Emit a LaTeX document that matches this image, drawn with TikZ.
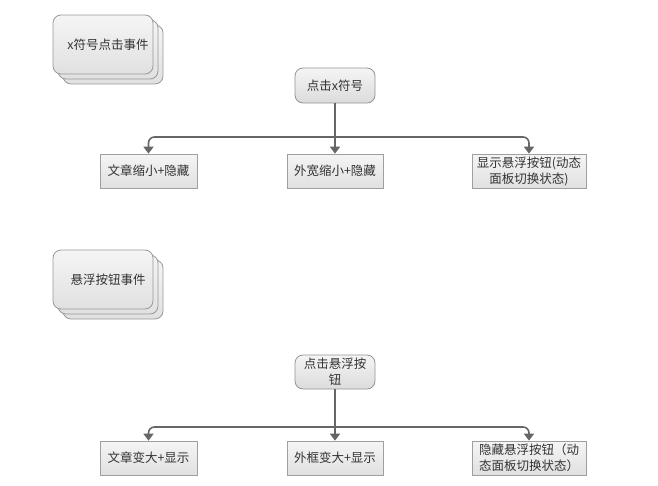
\documentclass[tikz,border=0pt]{standalone}
\usepackage{fontspec}
\setmainfont{Noto Sans CJK SC}
\usetikzlibrary{arrows.meta, positioning}

\tikzset{
  card/.style={draw=gray!80, line width=0.8pt, rounded corners=8pt,
    top color=white!96!black, bottom color=white!88!black,
    minimum width=100pt, minimum height=59pt, inner sep=2pt},
  start/.style={draw=gray!85, line width=0.8pt, rounded corners=8pt,
    top color=white!96!black, bottom color=white!86!black,
    minimum width=80pt, minimum height=35pt, align=center, inner sep=1pt},
  action/.style={draw=gray!75, line width=0.7pt,
    top color=white!96!black, bottom color=white!88!black,
    minimum height=34pt, align=center, inner sep=0pt},
  link/.style={draw=black!60, line width=1.6pt},
  flow/.style={link, rounded corners=6pt,
    -{Triangle[width=10pt,length=7pt]}}
}

\begin{document}
\begin{tikzpicture}[x=1pt, y=-1pt, font=\fontsize{12.5}{16}\selectfont, text=black!80]
  \useasboundingbox (0,0) rectangle (658,485);

  % event cards
  \node at (113,54.5) (cardAb) [card] {};
  \node at (108,49.5) (cardAm) [card] {};
  \node at (103,44.5) (cardA) [card] {\hspace{10pt}x符号点击事件};
  \node at (113,289.5) (cardBb) [card] {};
  \node at (108,284.5) (cardBm) [card] {};
  \node at (103,279.5) (cardB) [card] {\hspace{10pt}悬浮按钮事件};

  % first event
  \node at (335,85.5) (clickX) [start] {点击x符号};
  \coordinate (jX) at (335,137);
  \node at (148.5,171) (shrinkText) [action, minimum width=97pt] {文章缩小+隐藏};
  \node at (335,171) (shrinkFrame) [action, minimum width=96pt] {外宽缩小+隐藏};
  \node at (529,171) (showBtn) [action, minimum width=114pt] {显示悬浮按钮(动态\\面板切换状态)};
  \draw[link] (clickX) -- (jX);
  \draw[flow] (jX) -| (shrinkText);
  \draw[flow] (jX) -- (shrinkFrame);
  \draw[flow] (jX) -| (showBtn);

  % second event
  \node at (335,372) (clickBtn) [start, minimum height=34pt] {点击悬浮按\\钮};
  \coordinate (jB) at (335,427);
  \node at (148.5,458) (growText) [action, minimum width=97pt] {文章变大+显示};
  \node at (335,458) (growFrame) [action, minimum width=96pt] {外框变大+显示};
  \node at (529,458) (hideBtn) [action, minimum width=114pt] {隐藏悬浮按钮（动\\态面板切换状态）};
  \draw[link] (clickBtn) -- (jB);
  \draw[flow] (jB) -| (growText);
  \draw[flow] (jB) -- (growFrame);
  \draw[flow] (jB) -| (hideBtn);
\end{tikzpicture}
\end{document}
